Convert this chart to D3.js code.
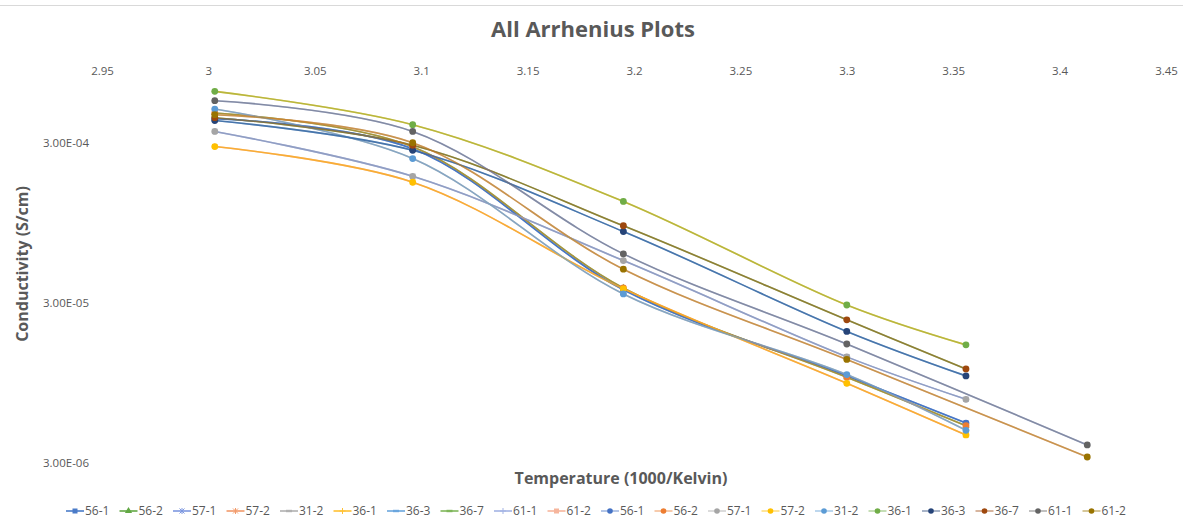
<!DOCTYPE html>
<html>
<head>
<meta charset="utf-8">
<script src="https://cdn.jsdelivr.net/npm/d3@7"></script>
<style>
  html, body { margin: 0; padding: 0; background: #fff; }
  svg { display: block; font-family: "Open Sans", "Noto Sans", sans-serif; }
</style>
</head>
<body>
<svg id="chart" width="1183" height="518"></svg>
<script>
// Sample names (each sample is plotted twice: a smoothed line series and a marker series)
const samples = ["56-1", "56-2", "57-1", "57-2", "31-2", "36-1", "36-3", "36-7", "61-1", "61-2"];

// Inverse temperature (1000/K) at which each sample was measured
const tempsTo25C = [3.003, 3.096, 3.195, 3.300, 3.356];
const tempsTo20C = [3.003, 3.096, 3.195, 3.300, 3.413];

// Conductivity (S/cm) per sample
const cond56_1 = [4.24e-4, 2.75e-4, 3.62e-5, 1.05e-5, 5.33e-6];
const cond56_2 = [4.60e-4, 2.83e-4, 3.72e-5, 1.03e-5, 5.13e-6];
const cond57_1 = [3.53e-4, 1.85e-4, 5.51e-5, 1.38e-5, 7.50e-6];
const cond57_2 = [2.84e-4, 1.70e-4, 3.67e-5, 9.44e-6, 4.49e-6];
const cond31_2 = [4.87e-4, 2.39e-4, 3.41e-5, 1.07e-5, 4.80e-6];
const cond36_1 = [6.28e-4, 3.89e-4, 1.29e-4, 2.91e-5, 1.64e-5];
const cond36_3 = [4.13e-4, 2.69e-4, 8.37e-5, 1.99e-5, 1.05e-5];
const cond36_7 = [4.30e-4, 2.89e-4, 9.09e-5, 2.35e-5, 1.16e-5];
const cond61_1 = [5.49e-4, 3.53e-4, 6.07e-5, 1.66e-5, 3.89e-6];
const cond61_2 = [4.49e-4, 3.00e-4, 4.87e-5, 1.33e-5, 3.27e-6];

const conductivity = [cond56_1, cond56_2, cond57_1, cond57_2, cond31_2,
                      cond36_1, cond36_3, cond36_7, cond61_1, cond61_2];
const temperatures = [tempsTo25C, tempsTo25C, tempsTo25C, tempsTo25C, tempsTo25C,
                      tempsTo25C, tempsTo25C, tempsTo25C, tempsTo20C, tempsTo20C];

// Axis tick labels
const xTickLabels = ["2.95", "3", "3.05", "3.1", "3.15", "3.2", "3.25", "3.3", "3.35", "3.4", "3.45"];
const yTickLabels = ["3.00E-06", "3.00E-05", "3.00E-04"];

// Styling: smoothed line series and marker series
const lineColors   = ["#4a7bc8", "#62a844", "#7d97e0", "#f29a6a", "#b0b0b0",
                      "#ffc133", "#6aa6de", "#7fb65a", "#a3b3e4", "#f6b59c"];
const lineSymbols  = ["square", "triangle", "times", "times", "dash",
                      "plus", "dash", "dash", "plus", "square"];
const markerColors = ["#4472C4", "#ED7D31", "#A5A5A5", "#FFC000", "#5B9BD5",
                      "#70AD47", "#264478", "#9E480E", "#636363", "#997300"];

const svg = d3.select("#chart");
const textColor = "#595959";

// Chart frame edge
svg.append("line")
  .attr("x1", 0).attr("x2", 1183).attr("y1", 5.5).attr("y2", 5.5)
  .attr("stroke", "#d9d9d9").attr("stroke-width", 1);

const x = d3.scaleLinear().domain([2.95, 3.45]).range([102, 1166]);
const y = d3.scaleLog().domain([3e-6, 1e-3]).range([463, 59]);

// Title
svg.append("text")
  .attr("x", 593).attr("y", 37)
  .attr("text-anchor", "middle")
  .attr("font-size", 22).attr("font-weight", "bold")
  .attr("fill", textColor)
  .text("All Arrhenius Plots");

// X axis (labels along the top of the plot area)
const xAxis = d3.axisBottom(x)
  .tickValues(xTickLabels.map(Number))
  .tickFormat((d, i) => xTickLabels[i])
  .tickSize(0).tickPadding(8);
const gx = svg.append("g").attr("transform", "translate(0,59)").call(xAxis);
gx.select(".domain").remove();
gx.selectAll("text").attr("fill", textColor).attr("font-size", 11.5)
  .attr("font-family", "'Open Sans', sans-serif");

// Y axis (log scale)
const yAxis = d3.axisLeft(y)
  .tickValues(yTickLabels.map(Number))
  .tickFormat((d, i) => yTickLabels[i])
  .tickSize(0).tickPadding(6);
const gy = svg.append("g").attr("transform", "translate(95,0)").call(yAxis);
gy.select(".domain").remove();
gy.selectAll("text").attr("fill", textColor).attr("font-size", 11.5)
  .attr("font-family", "'Open Sans', sans-serif");

// Axis titles
svg.append("text")
  .attr("x", 621).attr("y", 484)
  .attr("text-anchor", "middle")
  .attr("font-size", 16).attr("font-weight", "bold")
  .attr("fill", textColor)
  .text("Temperature (1000/Kelvin)");

svg.append("text")
  .attr("transform", "translate(28,264) rotate(-90)")
  .attr("text-anchor", "middle")
  .attr("font-size", 16).attr("font-weight", "bold")
  .attr("fill", textColor)
  .text("Conductivity (S/cm)");

// Small marker drawn for the line series
function drawSymbol(g, type, color, cx, cy) {
  if (type === "square") {
    g.append("rect").attr("x", cx - 2.5).attr("y", cy - 2.5)
      .attr("width", 5).attr("height", 5).attr("fill", color);
  } else if (type === "triangle") {
    g.append("path").attr("d", d3.symbol().type(d3.symbolTriangle).size(22)())
      .attr("transform", `translate(${cx},${cy})`).attr("fill", color);
  } else if (type === "times") {
    g.append("path").attr("d", `M${cx-2.5},${cy-2.5}L${cx+2.5},${cy+2.5}M${cx-2.5},${cy+2.5}L${cx+2.5},${cy-2.5}M${cx},${cy-3}L${cx},${cy+3}`)
      .attr("stroke", color).attr("stroke-width", 1).attr("fill", "none");
  } else if (type === "plus") {
    g.append("path").attr("d", `M${cx-3},${cy}L${cx+3},${cy}M${cx},${cy-3}L${cx},${cy+3}`)
      .attr("stroke", color).attr("stroke-width", 1).attr("fill", "none");
  } else {
    g.append("rect").attr("x", cx - 3).attr("y", cy - 1.2)
      .attr("width", 6).attr("height", 2.4).attr("fill", color);
  }
}

const line = d3.line()
  .x(d => x(d[0]))
  .y(d => y(d[1]))
  .curve(d3.curveCatmullRom.alpha(0.5));

const plot = svg.append("g");

// Smoothed line series
samples.forEach((name, i) => {
  const pts = temperatures[i].map((t, j) => [t, conductivity[i][j]]);
  const g = plot.append("g");
  g.append("path").attr("d", line(pts))
    .attr("fill", "none").attr("stroke", lineColors[i]).attr("stroke-width", 1.6);
  pts.forEach(p => drawSymbol(g, lineSymbols[i], lineColors[i], x(p[0]), y(p[1])));
});

// Marker series
samples.forEach((name, i) => {
  const pts = temperatures[i].map((t, j) => [t, conductivity[i][j]]);
  const g = plot.append("g");
  g.append("path").attr("d", line(pts))
    .attr("fill", "none").attr("stroke", markerColors[i])
    .attr("stroke-opacity", 0.5).attr("stroke-width", 1.6);
  g.selectAll("circle").data(pts).join("circle")
    .attr("cx", p => x(p[0])).attr("cy", p => y(p[1]))
    .attr("r", 3.4).attr("fill", markerColors[i]);
});

// Legend
const legend = svg.append("g");
const legendY = 511;
const step = 53.5;
for (let k = 0; k < 20; k++) {
  const i = k % 10;
  const cx = 75 + k * step;
  const g = legend.append("g");
  if (k < 10) {
    g.append("line").attr("x1", cx - 9).attr("x2", cx + 9)
      .attr("y1", legendY).attr("y2", legendY)
      .attr("stroke", lineColors[i]).attr("stroke-width", 1.6);
    drawSymbol(g, lineSymbols[i], lineColors[i], cx, legendY);
  } else {
    g.append("line").attr("x1", cx - 9).attr("x2", cx + 9)
      .attr("y1", legendY).attr("y2", legendY)
      .attr("stroke", markerColors[i]).attr("stroke-opacity", 0.5).attr("stroke-width", 1.6);
    g.append("circle").attr("cx", cx).attr("cy", legendY).attr("r", 2.8)
      .attr("fill", markerColors[i]);
  }
  g.append("text").attr("x", cx + 10).attr("y", legendY + 4)
    .attr("font-size", 12).attr("fill", textColor)
    .text(samples[i]);
}
</script>
</body>
</html>
